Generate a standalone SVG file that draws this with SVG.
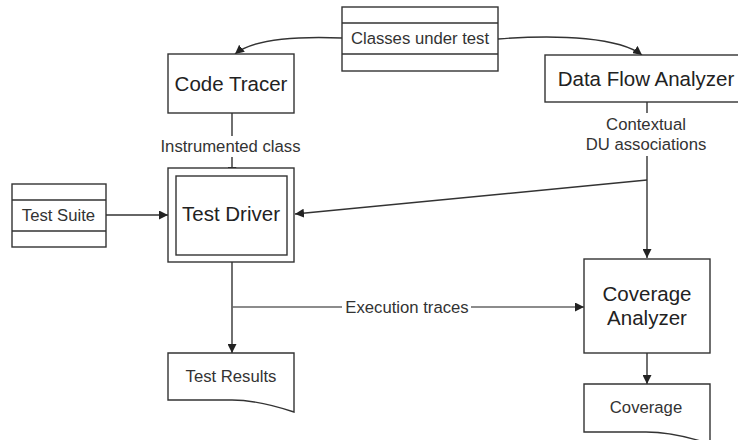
<svg xmlns="http://www.w3.org/2000/svg" width="738" height="440" viewBox="0 0 738 440">
<style>
.box{fill:#fff;stroke:#333;stroke-width:1.4}
.ln{fill:none;stroke:#333;stroke-width:1.4}
.big{font-family:"Liberation Sans",Arial,sans-serif;font-size:20.5px;fill:#222;text-anchor:middle}
.sm{font-family:"Liberation Sans",Arial,sans-serif;font-size:16.7px;fill:#333;text-anchor:middle}
</style>
<defs>
<marker id="ah" viewBox="0 0 10 10" refX="10" refY="5" markerWidth="9" markerHeight="9" markerUnits="userSpaceOnUse" orient="auto">
<path d="M0,0 L10,5 L0,10 Z" fill="#222"/>
</marker>
</defs>
<rect width="738" height="440" fill="#fff"/>
<g id="connectors">
<path class="ln" d="M342,38 C292,36 252,40 235,54" marker-end="url(#ah)"/>
<path class="ln" d="M498,39 C562,34 620,38 642,55" marker-end="url(#ah)"/>
<path class="ln" d="M232,113 V136"/>
<path class="ln" d="M232,157 V176" marker-end="url(#ah)"/>
<path class="ln" d="M106,215 H168" marker-end="url(#ah)"/>
<path class="ln" d="M647,102 V113"/>
<path class="ln" d="M647,156 V258" marker-end="url(#ah)"/>
<path class="ln" d="M647,180 L295,214" marker-end="url(#ah)"/>
<path class="ln" d="M232,262 V353" marker-end="url(#ah)"/>
<path class="ln" style="stroke:#666" d="M232,307 H342"/>
<path class="ln" style="stroke:#666" d="M471,307 H584" marker-end="url(#ah)"/>
<path class="ln" d="M647,353 V384" marker-end="url(#ah)"/>
<text class="sm" x="230.5" y="152">Instrumented class</text>
<text class="sm" x="646" y="130">Contextual</text>
<text class="sm" x="646" y="150">DU associations</text>
<text class="sm" x="407" y="313">Execution traces</text>
</g>
<g id="classes">
<rect class="box" x="342" y="7" width="156" height="64"/>
<path class="ln" d="M342,23 H498 M342,54 H498"/>
<text class="sm" x="420" y="44.3">Classes under test</text>
</g>
<g id="codetracer">
<rect class="box" x="168" y="54" width="126" height="59"/>
<text class="big" x="231" y="90.5">Code Tracer</text>
</g>
<g id="dataflow">
<rect class="box" x="545" y="55" width="205" height="47"/>
<text class="big" x="646" y="85.5">Data Flow Analyzer</text>
</g>
<g id="testsuite">
<rect class="box" x="12" y="184" width="94" height="63"/>
<path class="ln" d="M12,200 H106 M12,231 H106"/>
<text class="sm" x="58.5" y="221">Test Suite</text>
</g>
<g id="testdriver">
<rect class="box" x="168" y="168" width="126" height="94"/>
<rect class="box" x="176" y="176" width="111" height="79"/>
<text class="big" x="231" y="221">Test Driver</text>
</g>
<g id="coverageanalyzer">
<rect class="box" x="584" y="259" width="126" height="94"/>
<text class="big" x="647" y="300.5">Coverage</text>
<text class="big" x="647" y="325">Analyzer</text>
</g>
<g id="testresults">
<path class="box" d="M168,353 H294 V412 C270,404 252,400 232,400 H168 Z"/>
<text class="sm" x="231" y="381.5">Test Results</text>
</g>
<g id="coverage">
<path class="box" d="M584,384 H710 V444 C686,436 666,432 646,432 H584 Z"/>
<text class="sm" x="646" y="412.5">Coverage</text>
</g>
</svg>
